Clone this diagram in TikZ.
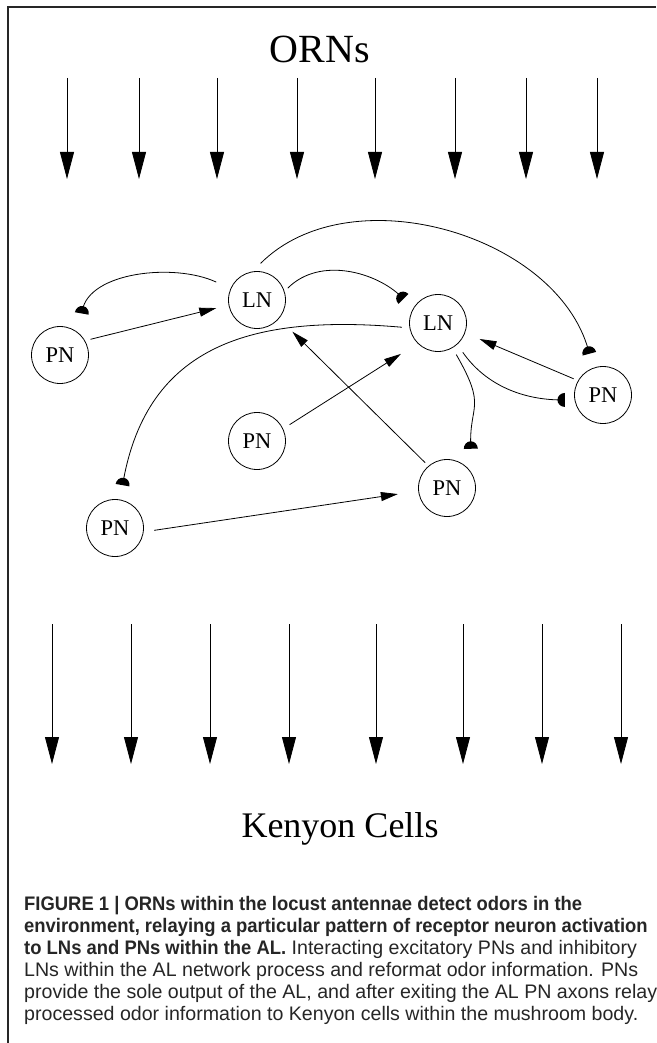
\documentclass[tikz,border=0pt]{standalone}
\usepackage{fontspec}
\setmainfont{Liberation Serif}
\newfontfamily\capfont{Liberation Sans}[BoldFeatures={FakeStretch=0.94}]
\usetikzlibrary{arrows.meta,calc}

% half-disc tip for inhibitory synapses
\pgfdeclarearrow{
  name = Inhib,
  setup code = {
    \pgfarrowssettipend{0pt}
    \pgfarrowssetlineend{-3pt}
    \pgfarrowshullpoint{0pt}{7pt}
    \pgfarrowshullpoint{0pt}{-7pt}
    \pgfarrowshullpoint{-7.5pt}{0pt}
  },
  drawing code = {
    \pgfpathmoveto{\pgfqpoint{0pt}{7pt}}
    \pgfpatharc{90}{270}{7.5pt and 7pt}
    \pgfpathclose
    \pgfusepathqfill
  }
}

\begin{document}
\begin{tikzpicture}[x=1pt,y=1pt,
  cell/.style={draw,circle,line width=0.8pt,minimum size=57pt,inner sep=0pt,outer sep=0pt,font=\fontsize{22.5}{27}\selectfont},
  excite/.style={-{Triangle[length=17pt,width=9pt]},line width=0.8pt},
  inhibit/.style={-{Inhib},line width=0.8pt},
  bigarrow/.style={-{Triangle[length=27pt,width=14pt]},line width=0.8pt},
  title/.style={anchor=base}]
  \useasboundingbox (0,0) rectangle (656,-1043);
  % Frame
  \draw[line width=2.2pt,black!85] (8,-1043) -- (8,-7) -- (656,-7);
  % ORN input
  \node[title,font=\fontsize{40}{46}\selectfont] (orns) at (320,-63) {ORNs};
  \foreach \x [count=\i] in {67,139,217,297,375,455,526,597}{
    \coordinate (in\i) at (\x,-78);
    \coordinate (inend\i) at (\x,-179);
    \draw[bigarrow] (in\i) -- (inend\i);
  }
  % AL network
  \node[cell] (ln1) at (257,-300) {LN};
  \node[cell] (ln2) at (438,-323) {LN};
  \node[cell] (pnl) at (60,-355) {PN};
  \node[cell] (pnr) at (603,-395) {PN};
  \node[cell] (pnm) at (257,-441) {PN};
  \node[cell] (pnlr) at (447,-488) {PN};
  \node[cell] (pnbl) at (115,-528) {PN};
  % excitatory PN to LN
  \draw[excite,shorten <=6pt,shorten >=13pt] (pnl.30) -- (ln1.190);
  \draw[excite,shorten <=5pt,shorten >=19pt] (pnlr.130) -- (ln1.-40);
  \draw[excite,shorten <=8pt,shorten >=20pt] (pnm.25) -- (ln2.225);
  \draw[excite,shorten <=5pt,shorten >=16pt] (pnr.150) -- (ln2.-20);
  \draw[excite,shorten <=11pt,shorten >=21pt] (pnbl.-8) -- (pnlr.186);
  % inhibitory LN output
  \draw[inhibit,shorten <=16pt,shorten >=20pt] (ln1.157) to[out=155,in=80] (pnl.50);
  \draw[inhibit,shorten <=5pt,shorten >=14pt] (ln1.17) to[out=45,in=135] (ln2.150);
  \draw[inhibit,shorten <=12pt,shorten >=15pt] (ln1.100) to[out=45,in=105] (pnr.110);
  \draw[inhibit,shorten <=8pt,shorten >=15pt,looseness=1.2] (ln2.190) to[out=175,in=80] (pnbl.80);
  \draw[inhibit,shorten <=10pt,shorten >=10pt] (ln2.-48) to[out=-55,in=180] (pnr.190);
  \draw[inhibit,shorten <=8pt,shorten >=25pt,looseness=1.4] (ln2.-60) to[out=-60,in=92] (pnlr.30);
  % output to Kenyon cells
  \foreach \x [count=\i] in {52,131,210,289,376,463,542,621}{
    \coordinate (out\i) at (\x,-624);
    \coordinate (outend\i) at (\x,-764);
    \draw[bigarrow] (out\i) -- (outend\i);
  }
  \node[title,font=\fontsize{36}{42}\selectfont] (kc) at (340,-837) {Kenyon Cells};
  % Caption
  \node[anchor=north west,align=left,inner sep=0pt,text=black!85,
    font=\capfont\fontsize{19.6}{22}\selectfont] (caption) at (24,-896)
    {\textbf{FIGURE 1 | ORNs within the locust antennae detect odors in the}\\
     \textbf{environment, relaying a particular pattern of receptor neuron activation}\\
     \textbf{to LNs and PNs within the AL.} Interacting excitatory PNs and inhibitory\\
     LNs within the AL network process and reformat odor information. PNs\\
     provide the sole output of the AL, and after exiting the AL PN axons relay\\
     processed odor information to Kenyon cells within the mushroom body.};
\end{tikzpicture}
\end{document}
